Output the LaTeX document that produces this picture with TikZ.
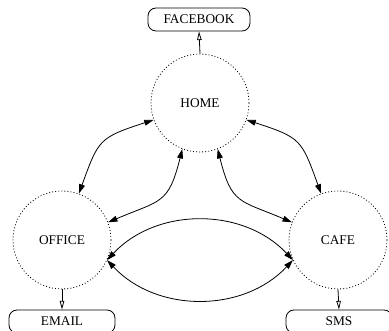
\documentclass[tikz,border=0pt]{standalone}
\usepackage{fontspec}
\setmainfont{Liberation Serif}
\usetikzlibrary{arrows.meta}
\begin{document}
\begin{tikzpicture}[x=0.75pt,y=0.75pt,
  every node/.style={font=\fontsize{10}{12}\selectfont},
  place/.style={circle,draw,line width=0.6pt,dash pattern=on 0.7pt off 1.6pt,
    minimum size=73.5pt,inner sep=0pt},
  outbox/.style={draw,line width=0.6pt,rounded corners=6pt,minimum width=78pt,
    minimum height=17.25pt,inner sep=0pt},
  link/.style={line width=0.6pt,{Triangle[length=7pt,width=4.4pt]}-{Triangle[length=7pt,width=4.4pt]}},
  notify/.style={line width=0.6pt,-{Triangle[open,length=6.5pt,width=3.4pt]}}]
\useasboundingbox (0,0) rectangle (389,331);

% places
\node[place] (home)   at (200,228) {HOME};
\node[place] (office) at (62,91)   {OFFICE};
\node[place] (cafe)   at (338,91)  {CAFE};

% notification targets
\node[outbox,minimum width=76.5pt] (facebook) at (199,311.5) {FACEBOOK};
\node[outbox,minimum width=79.5pt] (email)    at (62,9.5)    {EMAIL};
\node[outbox,minimum width=79.5pt] (sms)      at (339,9.5)   {SMS};

% links between places
\draw[link] (home.200) to[out=198,in=70,looseness=1.4] (office.70);
\draw[link] (home.249) to[out=256,in=23,looseness=1.4] (office.21);
\draw[link] (home.-20) to[out=-18,in=110,looseness=1.4] (cafe.110);
\draw[link] (home.291) to[out=284,in=157,looseness=1.4] (cafe.159);
\draw[link] (office.-24) to[out=47,in=133,looseness=1] (cafe.204);
\draw[link] (office.-24) to[out=-47,in=-133,looseness=1] (cafe.204);

% notifications
\draw[notify] (home.north) -- (facebook.south);
\draw[notify] (office.south) -- (email.north);
\draw[notify] (cafe.south) -- (sms.north);
\end{tikzpicture}
\end{document}
